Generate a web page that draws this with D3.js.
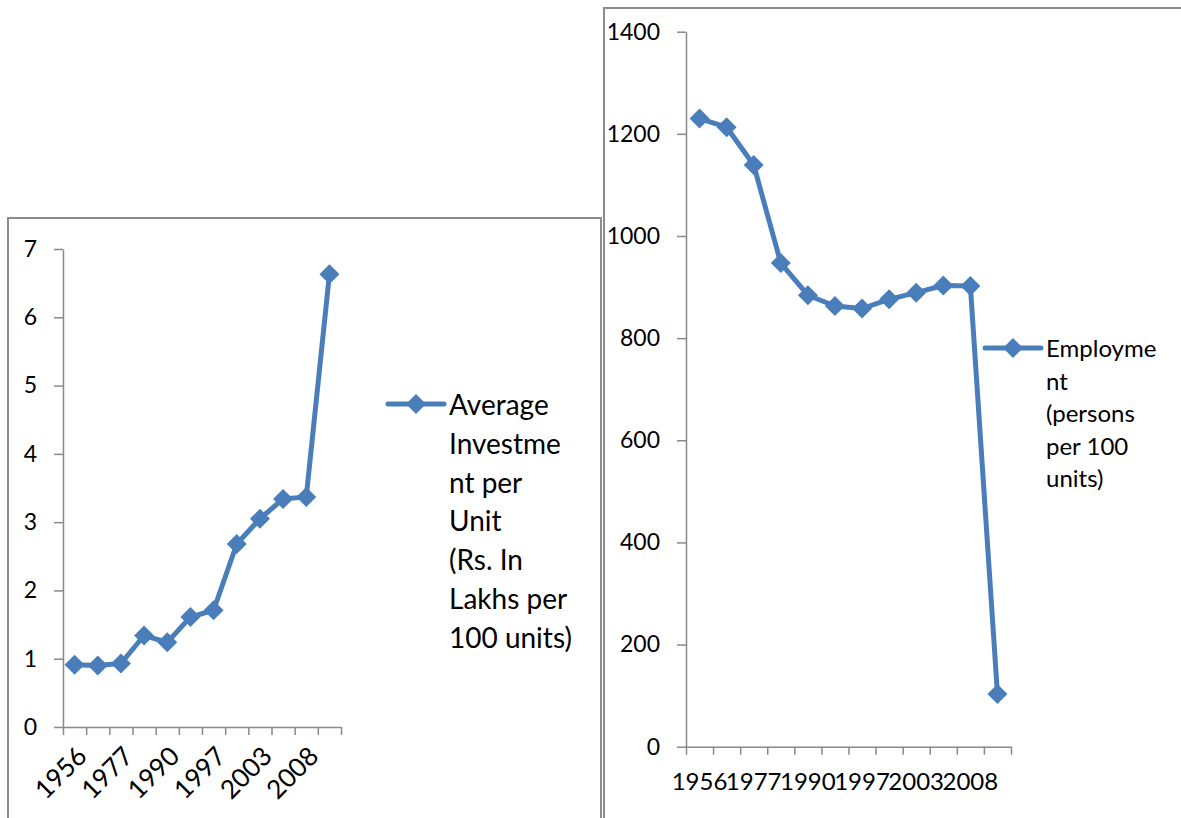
<!DOCTYPE html>
<html>
<head>
<meta charset="utf-8">
<script src="https://cdn.jsdelivr.net/npm/d3@7"></script>
<style>
  body { margin: 0; background: #fff; }
  svg { display: block; font-family: Lato, "Open Sans", sans-serif; }
</style>
</head>
<body>
<div id="plot"></div>
<script>
// twelve periods, only every second one carries a label
var xLabels = ["1956", "", "1977", "", "1990", "", "1997", "", "2003", "", "2008", ""];
var investment = [0.91, 0.90, 0.93, 1.34, 1.24, 1.61, 1.71, 2.68, 3.05, 3.34, 3.37, 6.63];
var employment = [1230, 1213, 1139, 947, 884, 863, 858, 876, 889, 903, 902, 103];
var investmentTicks = [0, 1, 2, 3, 4, 5, 6, 7];
var employmentTicks = [0, 200, 400, 600, 800, 1000, 1200, 1400];
var investmentLegend = ["Average", "Investme", "nt per", "Unit", "(Rs. In", "Lakhs per", "100 units)"];
var employmentLegend = ["Employme", "nt", "(persons", "per 100", "units)"];

var lineColour = "#4a7ebb";
var axisColour = "#898989";

var svg = d3.select("#plot")
	.append("svg")
	.attr("width", 1181)
	.attr("height", 818);

// diamond marker centred on 0,0
function diamond(r) {
	return "M0," + (-r) + "L" + r + ",0L0," + r + "L" + (-r) + ",0Z";
}

function drawChart(opt) {
	var g = svg.append("g");

	// chart frame
	g.append("rect")
		.attr("x", opt.frame[0])
		.attr("y", opt.frame[1])
		.attr("width", opt.frame[2])
		.attr("height", opt.frame[3])
		.attr("fill", "#fff")
		.attr("stroke", "#8c8c8c")
		.attr("stroke-width", 2);

	var n = opt.values.length;
	var xEdge = d3.scaleLinear()
		.domain([0, n])
		.range(opt.xRange);
	var y = d3.scaleLinear()
		.domain([0, d3.max(opt.yTicks)])
		.range(opt.yRange);

	// y axis
	var yAxis = d3.axisLeft(y)
		.tickValues(opt.yTicks)
		.tickSizeInner(9)
		.tickSizeOuter(0)
		.tickPadding(17)
		.tickFormat(d3.format("d"));
	var ya = g.append("g")
		.attr("transform", "translate(" + opt.xRange[0] + ",0)")
		.call(yAxis);
	ya.selectAll("path, line").attr("stroke", axisColour).attr("stroke-width", 1.5);
	ya.selectAll("text")
		.attr("fill", "#000")
		.style("font-size", "23px")
		.style("font-family", "Lato, sans-serif");

	// x axis: ticks sit on the category edges
	var xAxis = d3.axisBottom(xEdge)
		.tickValues(d3.range(n + 1))
		.tickSizeInner(8)
		.tickSizeOuter(0)
		.tickFormat("");
	var xa = g.append("g")
		.attr("transform", "translate(0," + opt.yRange[0] + ")")
		.call(xAxis);
	xa.selectAll("path, line").attr("stroke", axisColour).attr("stroke-width", 1.5);

	var labels = g.append("g")
		.selectAll("text")
		.data(xLabels)
		.enter()
		.append("text")
		.style("font-size", opt.rotate ? "26px" : "24px")
		.text(function(d) { return d; });
	if (opt.rotate) {
		labels.attr("text-anchor", "end")
			.attr("transform", function(d, i) {
				return "translate(" + (xEdge(i + 0.5) + 1) + "," + (opt.yRange[0] + 18) + ") rotate(-45)";
			})
			.attr("dy", "0.7em");
	} else {
		labels.attr("text-anchor", "middle")
			.attr("x", function(d, i) { return xEdge(i + 0.5); })
			.attr("y", opt.yRange[0] + 43);
	}

	// the series line
	var line = d3.line()
		.x(function(d, i) { return xEdge(i + 0.5); })
		.y(function(d) { return y(d); });
	g.append("path")
		.datum(opt.values)
		.attr("d", line)
		.attr("fill", "none")
		.attr("stroke", lineColour)
		.attr("stroke-width", 5)
		.attr("stroke-linejoin", "round");
	g.append("g")
		.selectAll("path")
		.data(opt.values)
		.enter()
		.append("path")
		.attr("d", diamond(10))
		.attr("fill", lineColour)
		.attr("transform", function(d, i) {
			return "translate(" + xEdge(i + 0.5) + "," + y(d) + ")";
		});

	// legend
	var lg = g.append("g")
		.attr("transform", "translate(" + opt.legend[0] + "," + opt.legend[1] + ")");
	lg.append("line")
		.attr("x1", 0)
		.attr("x2", 56)
		.attr("stroke", lineColour)
		.attr("stroke-width", 5)
		.attr("stroke-linecap", "round");
	lg.append("path")
		.attr("d", diamond(10))
		.attr("fill", lineColour)
		.attr("transform", "translate(28,0)");
	lg.selectAll("text")
		.data(opt.legendText)
		.enter()
		.append("text")
		.attr("x", 61)
		.attr("y", function(d, i) { return opt.legendBase + i * opt.legendStep; })
		.style("font-size", opt.legendSize + "px")
		.text(function(d) { return d; });
}

drawChart({
	values: investment,
	yTicks: investmentTicks,
	frame: [8, 218, 593, 640],
	xRange: [63, 341],
	yRange: [727, 249],
	rotate: true,
	legend: [388, 404],
	legendText: investmentLegend,
	legendBase: 11,
	legendStep: 38.8,
	legendSize: 28
});

drawChart({
	values: employment,
	yTicks: employmentTicks,
	frame: [604, 8, 620, 840],
	xRange: [686, 1011],
	yRange: [746.7, 31.7],
	rotate: false,
	legend: [985, 348],
	legendText: employmentLegend,
	legendBase: 9,
	legendStep: 32.5,
	legendSize: 24
});
</script>
</body>
</html>
